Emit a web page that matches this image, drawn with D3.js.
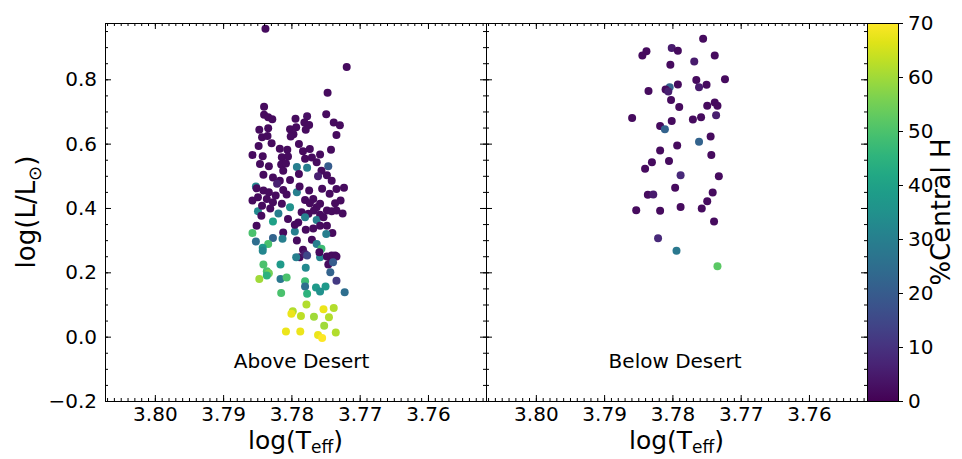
<!DOCTYPE html>
<html>
<head>
<meta charset="utf-8">
<script src="https://cdn.jsdelivr.net/npm/d3@7"></script>
<style>
  body { margin: 0; background: #fff; }
  text { font-family: "DejaVu Sans", sans-serif; fill: #000; }
</style>
</head>
<body>
<div id="chart"></div>
<script>
// ---- data ----
const aboveTeff = [3.7838,3.7719,3.7747,3.7840,3.7840,3.7834,3.7828,3.7794,3.7777,3.7749,
  3.7781,3.7774,3.7738,3.7729,3.7847,3.7834,3.7802,3.7793,3.7779,3.7797,
  3.7801,3.7843,3.7835,3.7734,3.7848,3.7829,3.7789,3.7817,3.7806,3.7783,
  3.7773,3.7742,3.7857,3.7842,3.7814,3.7805,3.7780,3.7758,3.7846,3.7833,
  3.7815,3.7812,3.7792,3.7777,3.7763,3.7746,3.7756,3.7789,3.7841,3.7827,
  3.7817,3.7802,3.7761,3.7748,3.7741,3.7852,3.7851,3.7841,3.7833,3.7821,
  3.7812,3.7807,3.7792,3.7768,3.7734,3.7744,3.7857,3.7849,3.7836,3.7827,
  3.7814,3.7802,3.7780,3.7773,3.7758,3.7736,3.7763,3.7748,3.7849,3.7844,
  3.7819,3.7805,3.7785,3.7775,3.7767,3.7758,3.7741,3.7734,3.7827,3.7790,
  3.7780,3.7763,3.7753,3.7851,3.7779,3.7758,3.7748,3.7857,3.7812,3.7795,
  3.7740,3.7749,3.7852,3.7827,3.7834,3.7842,3.7813,3.7792,3.7783,3.7770,
  3.7763,3.7756,3.7788,3.7780,3.7736,3.7744,3.7758,3.7793,3.7842,3.7777,
  3.7759,3.7748,3.7741,3.7734,3.7746,3.7739,3.7841,3.7816,3.7779,3.7836,
  3.7833,3.7836,3.7847,3.7816,3.7807,3.7780,3.7780,3.7743,3.7734,3.7764,
  3.7750,3.7758,3.7722,3.7815,3.7777,3.7778,3.7798,3.7800,3.7786,3.7767,
  3.7753,3.7738,3.7745,3.7752,3.7808,3.7787,3.7761,3.7755,3.7735,
  3.7723,3.7728,3.7725,3.7843,3.7831,3.7823,3.7788,3.7774,3.7755,3.7808,
  3.7770,3.7795,3.7768];
const aboveLum = [0.957,0.838,0.758,0.715,0.690,0.682,0.676,0.677,0.685,0.691,
  0.666,0.658,0.666,0.657,0.643,0.648,0.645,0.651,0.643,0.629,
  0.622,0.620,0.624,0.627,0.593,0.601,0.599,0.584,0.581,0.576,
  0.583,0.581,0.565,0.561,0.558,0.560,0.553,0.566,0.537,0.530,
  0.535,0.516,0.527,0.525,0.542,0.530,0.516,0.506,0.503,0.495,
  0.485,0.487,0.499,0.502,0.485,0.467,0.461,0.454,0.449,0.475,
  0.456,0.442,0.449,0.428,0.459,0.444,0.423,0.433,0.428,0.418,
  0.413,0.402,0.425,0.415,0.413,0.415,0.402,0.392,0.390,0.376,
  0.383,0.366,0.387,0.382,0.392,0.379,0.390,0.392,0.358,0.355,
  0.371,0.363,0.371,0.345,0.332,0.345,0.345,0.322,0.324,0.327,
  0.322,0.319,0.296,0.307,0.288,0.276,0.304,0.299,0.270,0.301,
  0.288,0.273,0.247,0.257,0.252,0.247,0.247,0.247,0.267,0.252,
  0.262,0.249,0.252,0.249,0.224,0.231,0.224,0.224,0.214,0.203,
  0.197,0.190,0.179,0.179,0.184,0.172,0.156,0.200,0.174,0.153,
  0.156,0.140,0.138,0.136,0.133,0.100,0.079,0.071,0.064,0.062,
  0.085,0.089,0.060,0.034,0.016,0.016,0.005,-0.004,0.013,
  0.463,0.423,0.383,0.407,0.398,0.439,0.467,0.454,0.460,0.538,
  0.557,0.348,0.336];
const aboveH = [2,2,2,2,2,2,2,2,3,2,
  2,2,2,2,2,2,2,2,2,2,
  2,2,2,2,2,2,2,2,2,2,
  2,2,2,2,2,2,2,2,2,2,
  2,2,30,30,2,20,2,2,2,2,
  2,2,6,2,2,32,2,2,2,6,
  2,2,30,2,2,2,2,2,2,2,
  2,35,2,2,2,2,2,2,33,2,
  30,2,2,2,2,2,2,2,40,2,
  30,30,2,2,2,2,2,50,2,30,
  2,30,25,22,50,38,30,2,2,2,
  30,48,2,5,2,2,32,30,32,15,
  2,2,2,2,2,20,50,38,33,50,
  55,45,60,28,50,48,25,22,12,38,
  38,35,25,50,45,62,62,68,63,60,
  68,62,62,60,68,68,68,70,62,
  2,2,2,2,2,2,2,2,2,2,
  2,2,2];

const belowTeff = [3.7755,3.7838,3.7844,3.7801,3.7792,3.7738,3.7803,3.7768,3.7723,3.7765,
  3.7750,3.7792,3.7761,3.7804,3.7810,3.7806,3.7835,3.7802,3.7790,3.7749,
  3.7738,3.7734,3.7859,3.7801,3.7770,3.7758,3.7736,3.7818,3.7811,3.7761,
  3.7744,3.7818,3.7793,3.7743,3.7830,3.7805,3.7840,3.7788,3.7732,3.7796,
  3.7741,3.7836,3.7828,3.7749,3.7853,3.7818,3.7788,3.7757,3.7739,3.7821,
  3.7794,3.7734];
const belowLum = [0.926,0.887,0.874,0.897,0.889,0.874,0.845,0.855,0.800,0.798,
  0.783,0.784,0.775,0.775,0.768,0.762,0.764,0.736,0.714,0.718,
  0.728,0.718,0.680,0.670,0.675,0.682,0.688,0.655,0.645,0.606,
  0.622,0.579,0.594,0.565,0.542,0.546,0.522,0.502,0.499,0.463,
  0.448,0.441,0.442,0.421,0.393,0.391,0.403,0.398,0.358,0.306,
  0.267,0.219];
const belowH = [2,2,2,5,2,2,2,5,2,2,
  2,2,5,22,2,6,2,2,2,2,
  2,2,2,2,2,2,6,2,22,22,
  2,2,2,2,2,2,2,8,2,2,
  2,2,5,2,2,2,2,2,2,8,
  28,52];

const panelTitles = ["Above Desert", "Below Desert"];
const xTicks = [3.80, 3.79, 3.78, 3.77, 3.76];
const yTicks = [-0.2, 0.0, 0.2, 0.4, 0.6, 0.8];
const cbTicks = [0, 10, 20, 30, 40, 50, 60, 70];

// ---- layout ----
const W = 962, H = 459;
const margin = {top: 23, left: 105};
const pw = 381, ph = 378;
const cbX = margin.left + 2 * pw, cbW = 31;

const svg = d3.select("#chart").append("svg")
  .attr("width", W)
  .attr("height", H);

const x = d3.scaleLinear().domain([3.8073, 3.7515]).range([0, pw]);
const y = d3.scaleLinear().domain([-0.2, 0.975]).range([ph, 0]);
const color = d3.scaleSequential(d3.interpolateViridis).domain([0, 70]);

const xMinor = d3.range(3752, 3808).map(d => d / 1000);
const yMinor = d3.range(-4, 20).map(d => d * 0.05);

function addAxis(g, axis, tr) {
  g.append("g")
    .attr("transform", tr || null)
    .call(axis)
    .call(a => a.select(".domain").remove())
    .call(a => a.selectAll("line").attr("stroke", "#000"))
    .call(a => a.selectAll("text").style("font-size", "20px").attr("fill", "#000"));
}

const panels = [
  {teff: aboveTeff, lum: aboveLum, h: aboveH, title: panelTitles[0], tx: 3.7785, showY: true},
  {teff: belowTeff, lum: belowLum, h: belowH, title: panelTitles[1], tx: 3.7796, showY: false}
];

panels.forEach((p, i) => {
  const g = svg.append("g")
    .attr("transform", `translate(${margin.left + i * pw},${margin.top})`);

  // points
  const pts = p.teff.map((t, k) => ({t: t, l: p.lum[k], h: p.h[k]}));
  g.selectAll(".dot")
    .data(pts)
    .enter()
    .append("circle")
    .attr("class", "dot")
    .attr("cx", d => x(d.t))
    .attr("cy", d => y(d.l))
    .attr("r", 4)
    .attr("fill", d => color(d.h));

  // minor ticks, all four sides, pointing inwards
  addAxis(g, d3.axisBottom(x).tickValues(xMinor).tickSize(-3).tickFormat(""), `translate(0,${ph})`);
  addAxis(g, d3.axisTop(x).tickValues(xMinor).tickSize(-3).tickFormat(""));
  addAxis(g, d3.axisLeft(y).tickValues(yMinor).tickSize(-3).tickFormat(""));
  addAxis(g, d3.axisRight(y).tickValues(yMinor).tickSize(-3).tickFormat(""), `translate(${pw},0)`);

  // major ticks
  addAxis(g, d3.axisBottom(x).tickValues(xTicks).tickSize(-6).tickPadding(6).tickFormat(d3.format(".2f")), `translate(0,${ph})`);
  addAxis(g, d3.axisTop(x).tickValues(xTicks).tickSize(-6).tickFormat(""));
  addAxis(g, d3.axisLeft(y).tickValues(yTicks).tickSize(-6).tickPadding(8)
    .tickFormat(p.showY ? d3.format(".1f") : ""));
  addAxis(g, d3.axisRight(y).tickValues(yTicks).tickSize(-6).tickFormat(""), `translate(${pw},0)`);

  // frame
  g.append("rect")
    .attr("x", 0.5).attr("y", 0.5)
    .attr("width", pw).attr("height", ph)
    .attr("fill", "none")
    .attr("stroke", "#000")
    .attr("stroke-width", 1);

  // panel title
  g.append("text")
    .attr("x", x(p.tx))
    .attr("y", y(-0.096))
    .attr("text-anchor", "middle")
    .style("font-size", "20px")
    .text(p.title);

  // x label log(T_eff)
  const xl = g.append("text")
    .attr("x", pw / 2)
    .attr("y", 449 - margin.top)
    .attr("text-anchor", "middle")
    .style("font-size", "25px");
  xl.append("tspan").text("log(T");
  xl.append("tspan").attr("dy", 4).style("font-size", "17px").text("eff");
  xl.append("tspan").attr("dy", -4).text(")");
});

// y label log(L/L_sun)
const yl = svg.append("text")
  .attr("transform", `translate(35,${margin.top + ph / 2}) rotate(-90)`)
  .attr("text-anchor", "middle")
  .style("font-size", "26px");
yl.append("tspan").text("log(L/L");
yl.append("tspan").attr("dy", 6).style("font-size", "18px").text("\u2299");
yl.append("tspan").attr("dy", -6).text(")");

// colorbar
const defs = svg.append("defs");
const grad = defs.append("linearGradient")
  .attr("id", "viridis")
  .attr("x1", 0).attr("y1", 1).attr("x2", 0).attr("y2", 0);
d3.range(0, 1.0001, 0.05).forEach(t => {
  grad.append("stop")
    .attr("offset", t)
    .attr("stop-color", d3.interpolateViridis(t));
});

const cScale = d3.scaleLinear().domain([0, 70]).range([ph, 0]);
const cb = svg.append("g").attr("transform", `translate(${cbX},${margin.top})`);
cb.append("rect")
  .attr("x", 0.5).attr("y", 0.5)
  .attr("width", cbW).attr("height", ph)
  .attr("fill", "url(#viridis)")
  .attr("stroke", "#000")
  .attr("stroke-width", 1);
addAxis(cb, d3.axisRight(cScale).tickValues(cbTicks).tickSize(5).tickPadding(5), `translate(${cbW},0)`);

svg.append("text")
  .attr("transform", `translate(950,${margin.top + ph / 2}) rotate(-90)`)
  .attr("text-anchor", "middle")
  .style("font-size", "26px")
  .text("%Central H");
</script>
</body>
</html>
